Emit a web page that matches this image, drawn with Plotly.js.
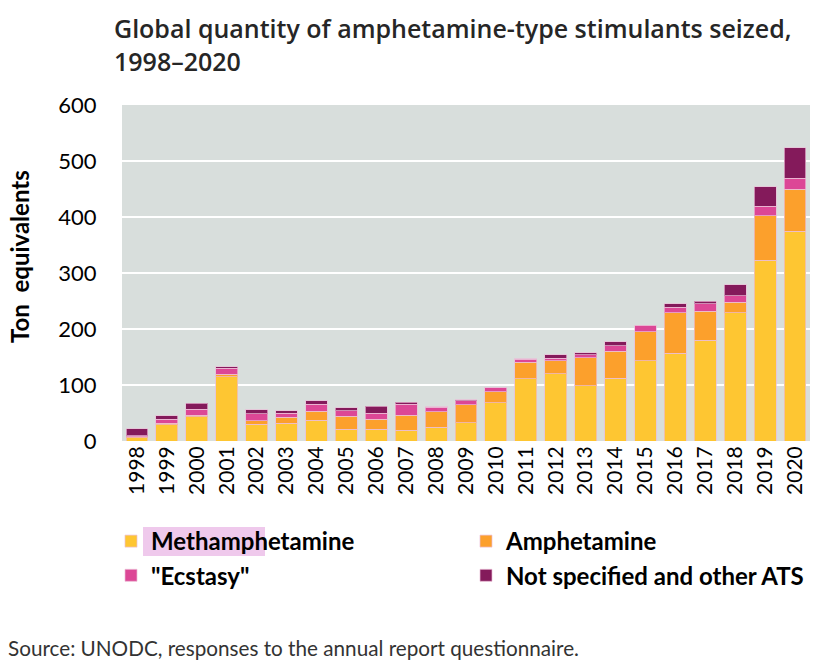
<!DOCTYPE html>
<html>
<head>
<meta charset="utf-8">
<script src="https://cdn.plot.ly/plotly-3.0.1.min.js"></script>
<style>html,body{margin:0;padding:0;background:#fff;}#chart{width:835px;height:670px;}</style>
</head>
<body>
<div id="chart"></div>
<script>
const years = ["1998","1999","2000","2001","2002","2003","2004","2005","2006","2007","2008","2009","2010","2011","2012","2013","2014","2015","2016","2017","2018","2019","2020"];
const methamphetamine = [6, 29, 43, 115, 30, 32, 37, 21, 21, 19, 25, 33, 68, 111, 120, 99, 112, 143, 157, 180, 229, 323, 375];
const amphetamine     = [2, 3, 3, 4, 6, 10, 16, 23, 18, 27, 27, 32, 20, 30, 23, 50, 48, 52, 72, 52, 19, 79, 75];
const ecstasy         = [1, 7, 11, 11, 13, 8, 13, 10, 11, 20, 8, 7, 7, 5, 5, 5, 10, 12, 10, 13, 11, 17, 19];
const otherATS        = [13, 6, 10, 3, 7, 4, 6, 5, 12, 3, 1, 2, 0.5, 1, 6, 4, 7, 0, 6, 5, 20, 35, 55];
const yTicks = [0, 100, 200, 300, 400, 500, 600];

const lineStyle = {color: 'rgba(235,190,215,0.7)', width: 1};
function mk(name, y, color, leg) {
  return {type: 'bar', name: name, x: years, y: y, legend: leg, legendgroup: name,
    marker: {color: color, line: lineStyle}, hoverinfo: 'x+y+name'};
}
const data = [
  mk('Methamphetamine', methamphetamine, '#FEC632', 'legend'),
  mk('Amphetamine', amphetamine, '#FCA02C', 'legend2'),
  mk('"Ecstasy"', ecstasy, '#DC4796', 'legend'),
  mk('Not specified and other ATS', otherATS, '#841A5B', 'legend2')
];

const legFont = {size: 24, color: '#000', family: 'Lato, sans-serif', weight: 'bold'};
const legBase = {
  orientation: 'v', xanchor: 'left', yanchor: 'top', y: (441-519)/336,
  font: legFont, traceorder: 'normal', itemclick: false, itemdoubleclick: false,
  bgcolor: 'rgba(0,0,0,0)', tracegroupgap: 4, borderwidth: 0
};

const layout = {
  width: 835, height: 670,
  margin: {l: 122, r: 25, t: 105, b: 229},
  paper_bgcolor: '#ffffff',
  plot_bgcolor: '#D8DEDC',
  barmode: 'stack',
  bargap: 0.27,
  font: {family: 'Lato, "Open Sans", sans-serif', color: '#000'},
  xaxis: {
    type: 'category', tickangle: -90,
    tickfont: {size: 21, color: '#000'},
    showgrid: false, zeroline: false, showline: false,
    ticks: '', fixedrange: true
  },
  yaxis: {
    range: [0, 600], tickvals: yTicks, ticktext: yTicks.map(String),
    tickfont: {size: 22, color: '#000'},
    showgrid: true, gridcolor: '#ffffff', gridwidth: 2,
    zeroline: false, showline: false,
    ticks: 'outside', ticklen: 20, tickcolor: 'rgba(0,0,0,0)',
    fixedrange: true
  },
  legend: Object.assign({}, legBase, {x: (111-122)/688}),
  legend2: Object.assign({}, legBase, {x: (466-122)/688}),
  shapes: [{
    type: 'rect', xref: 'paper', yref: 'paper',
    x0: (143-122)/688, x1: (265-122)/688,
    y0: (441-556)/336, y1: (441-527)/336,
    fillcolor: '#EFC9EC', line: {width: 0}, layer: 'below'
  }],
  annotations: [{
    text: 'Global quantity of amphetamine-type stimulants seized,<br>1998–2020',
    xref: 'paper', yref: 'paper', x: (112-122)/688, y: (441-9)/336,
    xanchor: 'left', yanchor: 'top', align: 'left', showarrow: false,
    font: {size: 25, color: '#262626', family: '"Open Sans", sans-serif', weight: 600}
  }, {
    text: '<b>Ton  equivalents</b>',
    xref: 'paper', yref: 'paper', x: (19-122)/688, y: (441-257)/336,
    xanchor: 'center', yanchor: 'middle', textangle: -90, showarrow: false,
    font: {size: 24, color: '#000', family: 'Lato, sans-serif'}
  }, {
    text: 'Source: UNODC, responses to the annual report questionnaire.',
    xref: 'paper', yref: 'paper', x: (6-122)/688, y: (441-648)/336,
    xanchor: 'left', yanchor: 'middle', showarrow: false,
    font: {size: 20.7, color: '#333', family: 'Lato, sans-serif'}
  }],
  showlegend: true
};
Plotly.newPlot('chart', data, layout, {displayModeBar: false, staticPlot: true});
</script>
</body>
</html>
